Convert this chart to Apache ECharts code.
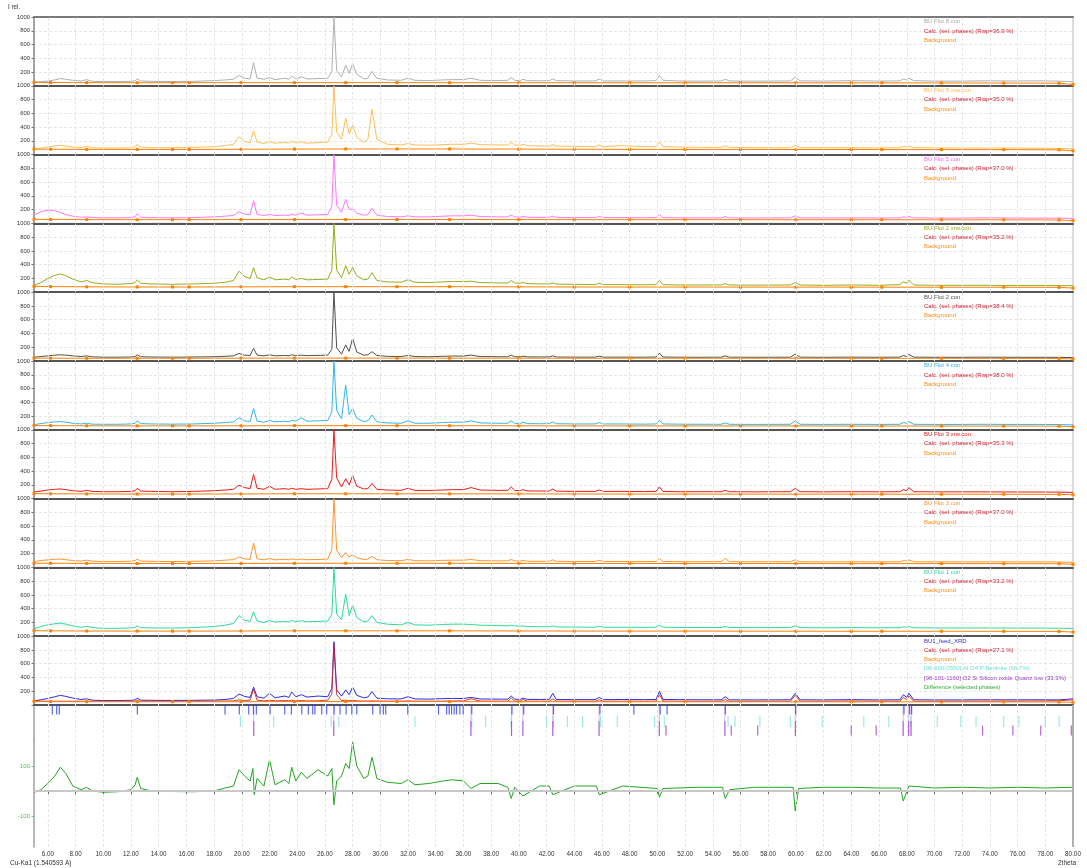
<!DOCTYPE html>
<html><head><meta charset="utf-8">
<script src="https://cdn.jsdelivr.net/npm/echarts@6.0.0/dist/echarts.min.js"></script>
<style>html,body{margin:0;padding:0;background:#fff}#c{width:1087px;height:868px}</style>
</head><body><div id="c"></div><script>
// ---------- DATA ----------
const twoTheta = [5.0,5.5,6.0,6.5,6.9,7.3,7.8,8.4,8.8,9.2,
 10.0,11.0,12.0,12.3,12.45,12.7,13.5,15.0,16.5,18.0,
 18.8,19.4,19.8,20.2,20.6,20.85,21.1,21.6,22.0,22.4,
 23.1,23.4,23.6,23.9,24.3,24.7,25.5,26.2,26.5,26.65,
 26.85,27.2,27.5,27.75,28.0,28.3,28.8,29.1,29.4,29.75,
 30.5,31.5,32.0,32.5,33.5,34.5,35.2,36.0,36.55,37.2,
 38.5,39.2,39.45,39.7,40.1,40.3,40.6,41.5,42.2,42.45,
 42.7,44.0,45.5,45.8,46.1,47.5,49.0,49.9,50.15,50.4,
 51.5,53.0,54.6,54.9,55.2,57.0,59.6,59.95,60.3,62.0,
 64.0,66.0,67.5,67.75,68.0,68.15,68.5,70.0,72.0,73.5,
 75.6,77.6,79.0,80.0];

const obsFlot8con = [55,60,70,85,105,95,80,70,90,65,
 60,62,65,75,100,70,65,62,65,75,
 85,95,150,110,100,335,110,95,120,90,
 110,95,140,100,130,100,105,110,200,1000,
 220,130,300,180,320,170,100,110,210,110,
 85,80,110,80,75,85,90,90,110,80,
 75,80,120,80,75,95,75,72,75,100,
 75,70,70,95,70,70,70,75,150,80,
 70,68,70,95,70,68,70,125,72,68,
 75,68,72,100,85,110,75,68,68,72,
 70,72,68,60];
const obsFlot5xrw = [80,95,110,125,135,125,110,100,120,100,
 95,95,100,115,150,110,100,100,105,115,
 130,150,260,190,170,345,180,160,190,165,
 180,165,195,170,185,165,175,180,300,1000,
 330,220,530,300,430,250,180,220,660,220,
 150,140,160,140,135,145,150,150,165,145,
 140,140,175,140,135,150,130,125,125,145,
 125,120,115,140,115,130,115,115,180,115,
 110,105,105,125,105,100,100,135,100,98,
 100,98,100,120,110,125,100,98,95,95,
 95,92,90,85];
const obsFlot5con = [120,170,195,185,160,130,105,90,95,85,
 80,80,85,95,140,90,85,80,85,95,
 105,115,170,135,125,330,130,115,130,115,
 120,115,135,120,150,120,125,130,250,1000,
 260,160,350,200,210,150,120,125,220,120,
 100,95,110,95,95,105,110,110,120,100,
 95,95,120,95,90,105,90,88,90,105,
 88,85,85,100,85,85,82,85,130,85,
 80,80,80,100,80,78,80,110,80,78,
 80,78,80,95,88,100,80,78,78,80,
 78,78,76,72];
const obsFlot2xrw = [100,140,200,245,265,240,190,150,170,140,
 120,115,125,140,180,130,120,115,120,130,
 145,170,305,230,200,355,210,180,220,180,
 190,180,220,185,200,180,185,190,320,1000,
 320,210,385,260,360,240,180,190,285,170,
 150,145,180,145,140,150,155,155,160,140,
 135,135,170,135,130,140,125,120,120,135,
 118,115,110,130,110,110,108,110,170,110,
 105,105,105,125,105,102,105,140,105,100,
 105,100,110,150,130,175,105,100,100,100,
 98,98,96,95];
const obsFlot2con = [55,65,75,85,90,85,75,65,75,60,
 55,55,58,65,90,62,58,55,58,62,
 68,75,110,85,80,185,85,75,90,75,
 80,75,90,78,85,78,82,85,170,1000,
 190,100,235,140,330,130,85,90,135,80,
 68,65,80,65,62,68,72,72,85,65,
 62,62,85,62,60,70,60,58,60,75,
 58,56,56,70,56,56,55,58,115,58,
 55,54,55,75,55,54,55,100,55,54,
 56,54,56,80,65,95,56,54,54,55,
 54,54,53,50];
const obsFlot4con = [75,90,105,115,120,110,95,85,95,82,
 80,80,85,95,130,90,85,82,85,95,
 105,115,175,130,120,310,125,110,135,115,
 125,115,140,125,175,125,130,135,260,1000,
 280,160,650,220,310,170,120,130,215,115,
 100,95,130,95,95,105,110,110,130,100,
 95,95,130,95,90,110,90,88,90,115,
 88,85,85,105,85,85,82,85,140,85,
 82,80,80,100,80,78,80,130,80,78,
 80,78,80,105,95,120,80,78,78,80,
 78,78,76,72];
const obsFlot3xrw = [95,110,125,135,140,130,115,105,120,105,
 100,100,105,115,150,110,105,100,105,115,
 125,135,195,160,145,350,150,135,180,135,
 145,135,150,135,145,135,140,145,280,1000,
 300,170,290,200,335,180,140,145,220,135,
 125,120,150,120,118,125,130,130,160,125,
 120,120,170,120,115,130,112,110,110,140,
 108,105,105,125,105,105,102,105,170,105,
 100,100,100,120,100,98,100,150,100,98,
 100,98,100,130,115,160,100,98,98,98,
 96,96,94,90];
const obsFlot3con = [85,100,110,118,120,112,100,92,105,90,
 85,85,90,100,120,92,88,85,88,95,
 105,112,150,125,115,355,125,110,130,110,
 118,110,125,112,120,112,115,120,260,1000,
 250,140,215,150,185,140,115,120,160,112,
 100,98,115,98,95,102,105,105,115,98,
 95,95,115,95,92,102,90,88,90,110,
 88,86,86,102,86,86,84,86,130,86,
 84,82,84,130,84,82,82,110,82,80,
 82,80,82,100,92,110,82,80,80,80,
 80,80,78,75];
const obsFlot1con = [110,140,165,180,190,175,150,130,145,125,
 115,115,120,130,150,125,120,118,125,140,
 160,185,300,230,215,355,220,200,230,205,
 215,205,230,210,225,210,215,220,320,1000,
 320,240,610,300,450,270,210,220,300,200,
 175,165,200,165,160,170,175,175,170,160,
 155,150,160,150,145,150,140,138,138,150,
 135,132,130,145,130,130,128,130,160,130,
 128,126,126,140,126,124,125,150,125,122,
 124,122,124,135,130,140,122,120,120,120,
 118,118,116,112];
const obsFeed = [60,75,95,120,140,125,100,80,90,70,
 65,65,68,75,97,70,68,66,68,72,
 80,95,160,125,110,260,120,100,170,105,
 130,110,190,120,150,115,130,120,240,920,
 220,130,220,150,260,140,105,115,195,100,
 90,88,120,88,85,92,95,95,110,88,
 85,85,130,85,82,100,82,80,82,170,
 80,78,78,110,78,80,78,80,200,82,
 78,76,76,120,76,74,76,170,76,74,
 78,74,76,150,110,170,76,74,74,76,
 75,76,74,90];
const calcFeed = [70,55,55,55,55,55,55,55,55,55,
 55,55,55,55,60,55,55,55,55,55,
 58,60,75,65,70,230,70,60,70,60,
 65,60,70,62,65,60,62,70,160,880,
 150,65,70,62,70,60,58,58,60,58,
 56,56,60,56,55,56,58,60,90,58,
 56,56,100,56,56,80,56,55,56,90,
 56,55,55,75,55,55,55,56,150,58,
 55,54,55,80,55,54,55,140,55,54,
 58,54,55,110,75,130,55,54,54,56,
 56,58,62,75];

const bgTheta = [5.0,6.2,8.8,12.45,15.0,16.2,19.95,23.8,27.5,31.2,35.0,40.0,44.0,48.0,52.0,56.0,60.0,64.0,66.2,70.5,75.0,79.0,80.0];
const bgFlot8con = [50,48,46,45,45,45,46,46,46,46,45,45,44,44,44,44,44,43,43,42,40,38,20];
const bgFlot5xrw = [80,78,76,75,75,75,78,80,82,82,82,80,78,76,75,75,74,74,73,72,72,70,55];
const bgFlot5con = [60,58,55,54,54,54,55,56,56,56,56,55,54,54,54,54,53,53,53,52,52,50,40];
const bgFlot2xrw = [85,82,78,76,76,76,78,80,80,80,80,78,76,75,75,74,74,74,73,72,72,70,60];
const bgFlot2con = [42,41,40,40,40,40,41,42,42,42,41,41,40,40,40,40,40,39,39,39,38,37,30];
const bgFlot4con = [62,60,58,57,57,57,58,60,60,60,59,58,57,57,56,56,56,55,55,55,54,53,45];
const bgFlot3xrw = [72,70,68,66,66,66,68,70,70,70,70,68,67,66,66,65,65,65,64,64,63,62,55];
const bgFlot3con = [62,60,58,57,57,57,58,60,60,60,60,58,57,57,56,56,56,55,55,55,54,53,45];
const bgFlot1con = [80,78,75,74,74,74,76,78,78,78,78,76,75,74,74,73,73,72,72,72,71,70,60];
const bgFeed = [52,50,48,47,47,47,48,50,50,50,50,48,47,47,47,46,46,46,46,45,45,44,40];

const diffTheta = [5.0,5.5,6.0,6.5,6.9,7.3,7.8,8.4,8.8,9.2,10.0,11.0,12.0,12.3,12.45,12.7,13.5,15.0,16.5,18.0,
 18.8,19.4,19.8,20.2,20.6,20.8,20.9,21.1,21.6,22.0,22.4,23.1,23.4,23.6,23.9,24.3,24.7,25.5,26.2,26.5,
 26.65,26.85,27.2,27.5,27.75,28.0,28.3,28.8,29.1,29.4,29.75,30.5,31.5,32.0,32.5,33.5,34.5,35.2,36.0,36.55,
 37.2,38.5,39.2,39.45,39.7,40.3,41.5,42.2,42.45,44.0,45.6,45.8,47.5,50.0,50.15,50.4,53.0,54.7,54.9,55.2,
 57.0,59.8,59.95,60.2,62.0,64.0,66.0,67.55,67.75,68.15,70.0,72.0,74.0,76.0,78.0,80.0];
const diffValues = [-5,5,30,60,95,70,20,5,15,0,-5,-3,5,25,55,10,0,-2,-3,0,
 12,20,85,60,40,90,-15,50,20,125,25,45,30,95,40,75,50,85,60,90,
 -55,40,60,110,90,195,100,50,60,135,50,35,30,45,25,30,40,45,40,10,
 30,30,15,-30,15,-20,20,20,-15,20,20,-15,20,10,-25,10,15,15,-30,5,
 15,15,-80,10,15,15,12,12,-40,20,12,15,12,15,12,15];

const tickPeakList = [6.32,6.64,6.83,12.46,18.79,19.82,20.5,20.84,21.05,22.04,23.1,23.58,24.33,24.8,25.12,25.28,25.77,26.13,26.66,27.09,27.53,27.94,28.3,29.45,29.98,30.22,30.39,31.98,34.2,34.78,34.97,35.14,35.33,35.5,35.74,35.98,36.6,39.5,40.35,42.5,45.85,48.3,50.2,50.7,54.9,59.98,67.8,68.2,68.35];
const tickBerlinite = [19.9,22.3,26.45,27.0,32.5,36.6,37.6,39.45,42.0,42.5,43.5,44.6,45.9,47.1,49.8,50.5,55.1,55.6,57.4,59.6,61.9,64.9,66.7,68.3,70.2,71.9,73.0,75.0,76.1,78.0,79.0];
const tickQuartzStrong = [20.86,26.64,36.54,39.47,40.29,42.45,45.79,50.14,54.87,59.96,67.74,68.14,68.31];
const tickQuartzWeak = [50.62,55.33,57.24,63.99,65.79,73.47,75.66,77.67,79.88];

const xTickLabels = [6,8,10,12,14,16,18,20,22,24,26,28,30,32,34,36,38,40,42,44,46,48,50,52,54,56,58,60,62,64,66,68,70,72,74,76,78,80];
const panelTickLabels = [200,400,600,800,1000];
const diffTickLabels = [-100,100];

const panelNames = ['BU Flot 8 con','BU Flot 5 xrw.con','BU Flot 5 con','BU Flot 2 xrw.con','BU Flot 2 con','BU Flot 4 con','BU Flot 3 xrw.con','BU Flot 3 con','BU Flot 1 con','BU1_feed_XRD'];
const panelRwp = ['36.9','35.0','37.0','35.2','38.4','38.0','35.3','37.0','33.2','27.1'];
const feedPhaseNames = ['[96-900-0550] Al O4 P Berlinite (66.7%)','[96-101-1160] O2 Si Silicon oxide Quartz low (33.3%)','Difference (selected phases)'];

const obsSets = [obsFlot8con,obsFlot5xrw,obsFlot5con,obsFlot2xrw,obsFlot2con,obsFlot4con,obsFlot3xrw,obsFlot3con,obsFlot1con,obsFeed];
const bgSets = [bgFlot8con,bgFlot5xrw,bgFlot5con,bgFlot2xrw,bgFlot2con,bgFlot4con,bgFlot3xrw,bgFlot3con,bgFlot1con,bgFeed];

// ---------- STYLE ----------
const obsColors = ['#b0b0b0','#ffbf55','#ff77ff','#9aac1c','#505050','#33b5ee','#ee1a1a','#ff9530','#2edb9a','#2b2bef'];
const legendColors = ['#a8a8a8','#ffb84d','#ff66ff','#9aac1c','#555555','#33b5ee','#e02020','#ff9530','#2edb9a','#3333cc'];
const calcColor = '#cc2233', bgColor = '#ff8000';
const FONT = '"Liberation Sans", Arial, sans-serif';
const L = 34, R = 14, PANEL_TOP = 17, PANEL_H = 68.8;
const GRIDLINE = { color: '#e6e6e6', type: [3, 2], width: 1 };

const grids = [], xAxes = [], yAxes = [], series = [], graphics = [];
const pair = (xs, ys) => xs.map((x, k) => [x, ys[k]]);
const vGridLines = (idx) => ({
  type: 'line', xAxisIndex: idx, yAxisIndex: idx, data: [], silent: true, z: 1,
  markLine: { silent: true, symbol: ['none','none'], label: { show: false }, animation: false,
    lineStyle: GRIDLINE,
    data: xTickLabels.filter(v => v < 80).map(v => ({ xAxis: v })) }
});

for (let i = 0; i < 10; i++) {
  const top = PANEL_TOP + i * PANEL_H;
  grids.push({ left: L, right: R, top: top, height: PANEL_H, show: true, borderColor: '#b8b8b8', borderWidth: 1 });
  xAxes.push({ gridIndex: i, type: 'value', min: 5, max: 80, axisLine: { show: true, onZero: false, lineStyle: { color: '#555', width: 2 } },
    axisTick: { show: false }, axisLabel: { show: false }, splitLine: { show: false } });
  yAxes.push({ gridIndex: i, type: 'value', min: 0, max: 1000, interval: 200,
    axisLine: { show: true, lineStyle: { color: '#909090', width: 1.5 } },
    axisTick: { show: true, length: 2.5, lineStyle: { color: '#777' } },
    axisLabel: { customValues: panelTickLabels, formatter: v => String(v), fontSize: 5.8, fontFamily: FONT, color: '#333', margin: 4 },
    splitLine: { show: true, lineStyle: GRIDLINE } });
  series.push(vGridLines(i));
  series.push({ type: 'line', xAxisIndex: i, yAxisIndex: i, data: pair(twoTheta, obsSets[i]), showSymbol: false, z: 3,
    lineStyle: { color: obsColors[i], width: 1 }, itemStyle: { color: obsColors[i] }, clip: true });
  series.push({ type: 'line', xAxisIndex: i, yAxisIndex: i, data: pair(bgTheta, bgSets[i]), symbol: 'rect', symbolSize: 3, showSymbol: true, z: 4,
    lineStyle: { color: bgColor, width: 1 }, itemStyle: { color: bgColor } });
  const lx = 924;
  const lines = [[panelNames[i], legendColors[i]], ['Calc. (sel. phases) (Rwp=' + panelRwp[i] + ' %)', calcColor], ['Background', '#ff8c1a']];
  if (i === 9) {
    lines.push([feedPhaseNames[0], '#6fded6'], [feedPhaseNames[1], '#9a3fc0'], [feedPhaseNames[2], '#33aa33']);
  }
  lines.forEach((ln, k) => {
    graphics.push({ type: 'text', x: lx, y: top + 4.7 + k * 9.3, silent: true, z: 100,
      style: { text: ln[0], fill: ln[1], fontSize: 6, fontFamily: FONT, verticalAlign: 'middle' } });
  });
}
xAxes.push({ gridIndex: 0, type: 'value', min: 5, max: 80, position: 'top', axisLine: { show: true, onZero: false, lineStyle: { color: '#7a7a7a', width: 2 } },
  axisTick: { show: false }, axisLabel: { show: false }, splitLine: { show: false } });

series.push({ type: 'line', xAxisIndex: 9, yAxisIndex: 9, data: pair(twoTheta, calcFeed), showSymbol: false, z: 3.5,
  lineStyle: { color: '#d02020', width: 1, opacity: 0.85 }, itemStyle: { color: '#d02020' } });

// tick-mark grid
grids.push({ left: L, right: R, top: 705, height: 35 });
xAxes.push({ gridIndex: 10, type: 'value', min: 5, max: 80, axisLine: { show: false }, axisTick: { show: false }, axisLabel: { show: false }, splitLine: { show: false } });
const tickX = xAxes.length - 1;
yAxes.push({ gridIndex: 10, type: 'value', min: 0, max: 35, inverse: true, axisLine: { show: true, lineStyle: { color: '#a0a0a0', width: 1.5 } },
  axisTick: { show: false }, axisLabel: { show: false }, splitLine: { show: false } });
const tickY = yAxes.length - 1;
series.push(Object.assign(vGridLines(10), { xAxisIndex: tickX, yAxisIndex: tickY }));
const tickSeries = (vals, yc, len, color, z) => ({ type: 'scatter', xAxisIndex: tickX, yAxisIndex: tickY, silent: true, z: z,
  data: vals.map(v => [v, yc]), symbol: 'rect', symbolSize: [1.2, len], itemStyle: { color: color } });
series.push(tickSeries(tickPeakList, 4.5, 10, '#3344ee', 5));
series.push(tickSeries(tickQuartzStrong, 8.5, 15, '#dcb0ec', 4));
series.push(tickSeries(tickBerlinite, 16.5, 11, '#86e6da', 5));
series.push(tickSeries(tickQuartzStrong, 23.5, 15, '#9933cc', 6));
series.push(tickSeries(tickQuartzWeak, 25.5, 10, '#a040d0', 6));

// difference grid
grids.push({ left: L, right: R, top: 740, height: 107 });
xAxes.push({ gridIndex: 11, type: 'value', min: 5, max: 80, axisLine: { show: false },
  axisTick: { show: true, customValues: xTickLabels, length: 3, lineStyle: { color: '#666' } },
  axisLabel: { customValues: xTickLabels, formatter: v => v.toFixed(2), fontSize: 6.3, fontFamily: FONT, color: '#333', margin: 4 },
  splitLine: { show: false } });
const diffX = xAxes.length - 1;
yAxes.push({ gridIndex: 11, type: 'value', min: -224, max: 204,
  axisLine: { show: true, lineStyle: { color: '#a0a0a0', width: 1.5 } },
  axisTick: { show: true, customValues: diffTickLabels, length: 2.5, lineStyle: { color: '#66cc66' } },
  axisLabel: { customValues: diffTickLabels, formatter: v => String(v), fontSize: 6, fontFamily: FONT, color: '#55bb55', margin: 4 },
  splitLine: { show: false } });
const diffY = yAxes.length - 1;
series.push(Object.assign(vGridLines(11), { xAxisIndex: diffX, yAxisIndex: diffY }));
series.push({ type: 'line', xAxisIndex: diffX, yAxisIndex: diffY, data: [], silent: true, z: 1.5,
  markLine: { silent: true, symbol: ['none','none'], label: { show: false }, animation: false,
    lineStyle: { color: '#c8c8c8', type: 'solid', width: 2 }, data: [{ yAxis: 0 }] } });
series.push({ type: 'line', xAxisIndex: diffX, yAxisIndex: diffY, data: pair(diffTheta, diffValues), showSymbol: false, z: 3,
  lineStyle: { color: '#22a622', width: 1 }, itemStyle: { color: '#22a622' } });
[[tickX, tickY], [diffX, diffY]].forEach(([xa, ya]) => {
  series.push({ type: 'line', xAxisIndex: xa, yAxisIndex: ya, data: [], silent: true, z: 2,
    markLine: { silent: true, symbol: ['none','none'], label: { show: false }, animation: false,
      lineStyle: { color: '#b0b0b0', type: 'solid', width: 2 }, data: [{ xAxis: 80 }] } });
});

graphics.push({ type: 'text', x: 8, y: 7, silent: true, style: { text: 'I rel.', fill: '#333', fontSize: 6.3, fontFamily: FONT, verticalAlign: 'middle' } });
graphics.push({ type: 'text', x: 10, y: 863, silent: true, style: { text: 'Cu-Ka1 (1.540593 A)', fill: '#333', fontSize: 6.5, fontFamily: FONT, verticalAlign: 'middle' } });
graphics.push({ type: 'text', x: 1058, y: 863, silent: true, style: { text: '2theta', fill: '#333', fontSize: 6.5, fontFamily: FONT, verticalAlign: 'middle' } });

const chart = echarts.init(document.getElementById('c'), null, { renderer: 'canvas', width: 1087, height: 868 });
chart.setOption({
  animation: false,
  backgroundColor: '#ffffff',
  grid: grids, xAxis: xAxes, yAxis: yAxes, series: series, graphic: graphics
});
</script></body></html>
